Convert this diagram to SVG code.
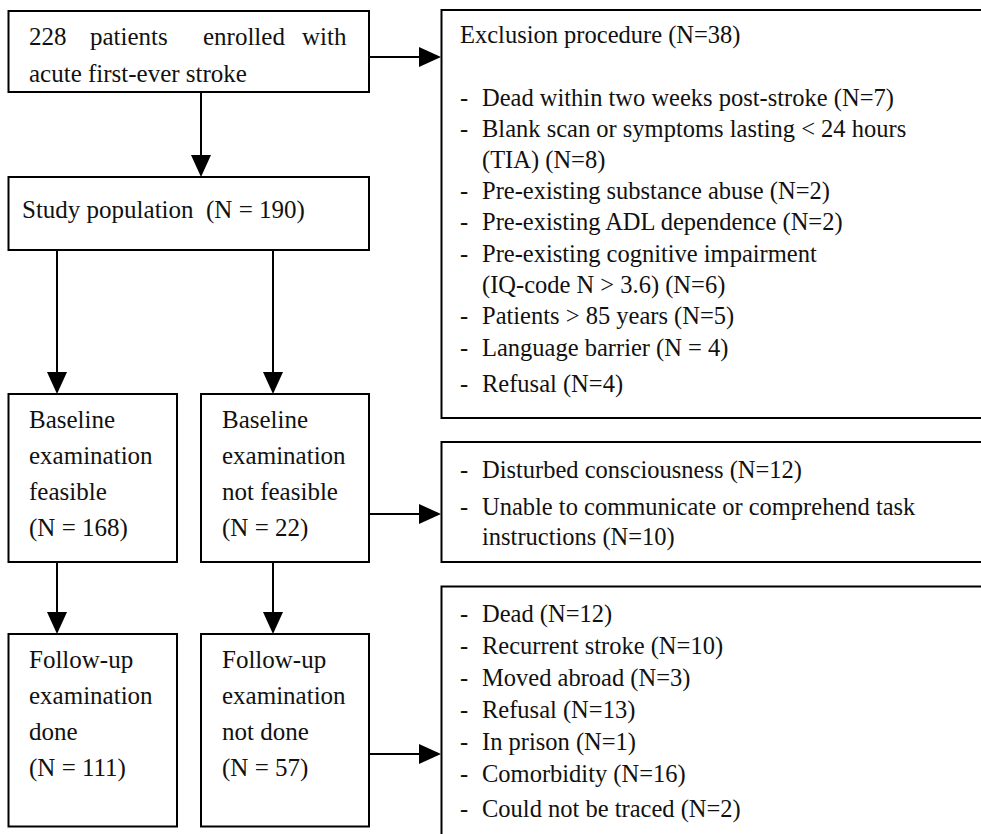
<svg xmlns="http://www.w3.org/2000/svg" width="981" height="834" viewBox="0 0 981 834">
<style>
  .box { fill: #fff; stroke: #000; stroke-width: 2; }
  .conn { stroke: #000; stroke-width: 2; fill: none; }
  text { font-family: 'Liberation Serif', 'DejaVu Serif', serif; fill: #111; }
  .t { font-size: 25px; }
  .r { font-size: 24.5px; }
</style>
<defs>
  <marker id="ah" markerUnits="userSpaceOnUse" markerWidth="24" markerHeight="22" refX="12" refY="10" orient="auto" viewBox="0 0 24 22">
    <path d="M0,0 L22,10 L0,20 Z" fill="#000"/>
  </marker>
</defs>
<rect width="981" height="834" fill="#fff"/>

<g id="connectors">
  <line class="conn" x1="201" y1="92" x2="201" y2="167" marker-end="url(#ah)"/>
  <line class="conn" x1="369" y1="57" x2="431" y2="57" marker-end="url(#ah)"/>
  <line class="conn" x1="57" y1="250" x2="57" y2="384" marker-end="url(#ah)"/>
  <line class="conn" x1="273" y1="250" x2="273" y2="384" marker-end="url(#ah)"/>
  <line class="conn" x1="57" y1="562" x2="57" y2="624" marker-end="url(#ah)"/>
  <line class="conn" x1="273" y1="562" x2="273" y2="624" marker-end="url(#ah)"/>
  <line class="conn" x1="369" y1="514" x2="431" y2="514" marker-end="url(#ah)"/>
  <line class="conn" x1="369" y1="754" x2="431" y2="754" marker-end="url(#ah)"/>
</g>

<g id="enrolled">
  <rect class="box" x="8.5" y="11" width="360.5" height="81"/>
  <text class="t" y="45" font-family="Liberation Serif, serif"><tspan x="29">228</tspan><tspan x="90">patients</tspan><tspan x="203">enrolled</tspan><tspan x="302">with</tspan></text>
  <text class="t" x="29" y="82" font-family="Liberation Serif, serif">acute first-ever stroke</text>
</g>

<g id="study">
  <rect class="box" x="8.5" y="177" width="360.5" height="73"/>
  <text class="t" x="22" y="218" xml:space="preserve">Study population  (N = 190)</text>
</g>

<g id="baseline-feasible">
  <rect class="box" x="8.5" y="394" width="168.5" height="168"/>
  <text class="t" x="29" y="428">Baseline</text>
  <text class="t" x="29" y="464">examination</text>
  <text class="t" x="29" y="500">feasible</text>
  <text class="t" x="29" y="536">(N = 168)</text>
</g>

<g id="baseline-not-feasible">
  <rect class="box" x="201" y="394" width="168" height="168"/>
  <text class="t" x="222" y="428">Baseline</text>
  <text class="t" x="222" y="464">examination</text>
  <text class="t" x="222" y="500">not feasible</text>
  <text class="t" x="222" y="536">(N = 22)</text>
</g>

<g id="followup-done">
  <rect class="box" x="8.5" y="634" width="168.5" height="192.5"/>
  <text class="t" x="29" y="668">Follow-up</text>
  <text class="t" x="29" y="704">examination</text>
  <text class="t" x="29" y="740">done</text>
  <text class="t" x="29" y="776">(N = 111)</text>
</g>

<g id="followup-not-done">
  <rect class="box" x="201" y="634" width="168" height="192.5"/>
  <text class="t" x="222" y="668">Follow-up</text>
  <text class="t" x="222" y="704">examination</text>
  <text class="t" x="222" y="740">not done</text>
  <text class="t" x="222" y="776">(N = 57)</text>
</g>

<g id="exclusion">
  <rect class="box" x="441.5" y="10" width="560" height="408"/>
  <text class="r" x="460" y="43">Exclusion procedure (N=38)</text>
  <g class="r">
    <text class="r" x="460" y="106">-</text><text class="r" x="482" y="106">Dead within two weeks post-stroke (N=7)</text>
    <text class="r" x="460" y="137">-</text><text class="r" x="482" y="137">Blank scan or symptoms lasting &lt; 24 hours</text>
    <text class="r" x="482" y="168">(TIA) (N=8)</text>
    <text class="r" x="460" y="199">-</text><text class="r" x="482" y="199">Pre-existing substance abuse (N=2)</text>
    <text class="r" x="460" y="230">-</text><text class="r" x="482" y="230">Pre-existing ADL dependence (N=2)</text>
    <text class="r" x="460" y="262">-</text><text class="r" x="482" y="262">Pre-existing cognitive impairment</text>
    <text class="r" x="482" y="293">(IQ-code N &gt; 3.6) (N=6)</text>
    <text class="r" x="460" y="324">-</text><text class="r" x="482" y="324">Patients &gt; 85 years (N=5)</text>
    <text class="r" x="460" y="356">-</text><text class="r" x="482" y="356">Language barrier (N = 4)</text>
    <text class="r" x="460" y="392">-</text><text class="r" x="482" y="392">Refusal (N=4)</text>
  </g>
</g>

<g id="not-feasible-reasons">
  <rect class="box" x="441.5" y="442" width="560" height="120"/>
  <g class="r">
    <text class="r" x="460" y="478">-</text><text class="r" x="482" y="478">Disturbed consciousness (N=12)</text>
    <text class="r" x="460" y="515">-</text><text class="r" x="482" y="515">Unable to communicate or comprehend task</text>
    <text class="r" x="482" y="545">instructions (N=10)</text>
  </g>
</g>

<g id="not-done-reasons">
  <rect class="box" x="441.5" y="586.5" width="560" height="280"/>
  <g class="r">
    <text class="r" x="460" y="622">-</text><text class="r" x="482" y="622">Dead (N=12)</text>
    <text class="r" x="460" y="654">-</text><text class="r" x="482" y="654">Recurrent stroke (N=10)</text>
    <text class="r" x="460" y="686">-</text><text class="r" x="482" y="686">Moved abroad (N=3)</text>
    <text class="r" x="460" y="718">-</text><text class="r" x="482" y="718">Refusal (N=13)</text>
    <text class="r" x="460" y="750">-</text><text class="r" x="482" y="750">In prison (N=1)</text>
    <text class="r" x="460" y="782">-</text><text class="r" x="482" y="782">Comorbidity (N=16)</text>
    <text class="r" x="460" y="817">-</text><text class="r" x="482" y="817">Could not be traced (N=2)</text>
  </g>
</g>
</svg>
